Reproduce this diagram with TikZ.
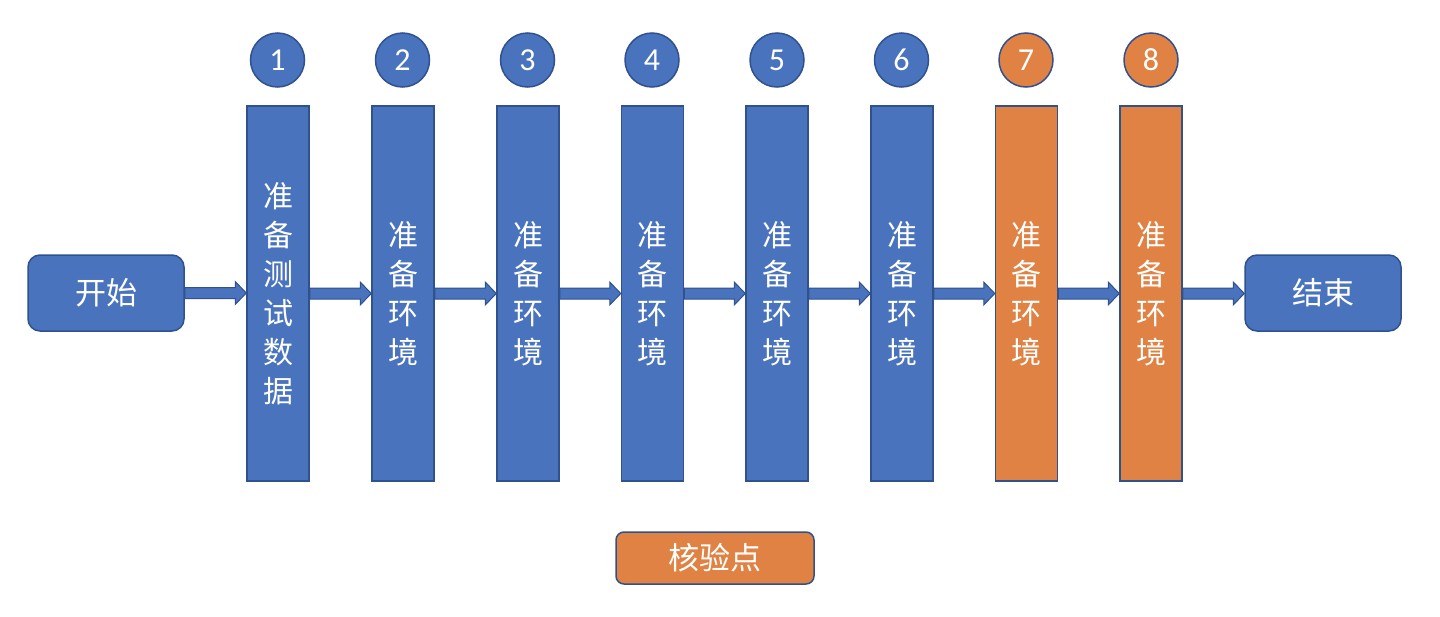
\documentclass[tikz,border=0pt]{standalone}
\usepackage{fontspec}
\newfontfamily\cjk{Noto Sans CJK SC}
\newfontfamily\numfont{Carlito}
\usetikzlibrary{calc}
\definecolor{bfill}{HTML}{4A73BE}
\definecolor{ofill}{HTML}{E08244}
\definecolor{bline}{HTML}{2F528F}
\tikzset{
  colbox/.style={draw=bline,line width=1.5pt,fill=bfill,minimum width=62pt,minimum height=375pt,inner sep=0pt,text=white,align=center,font=\cjk\fontsize{30}{39}\selectfont},
  numcirc/.style={circle,draw=bline,line width=1.5pt,fill=bfill,minimum size=54pt,inner sep=0pt,text=white,font=\numfont\fontsize{32}{32}\selectfont},
  endbox/.style={draw=bline,line width=1.5pt,fill=bfill,rounded corners=12pt,minimum width=156pt,minimum height=76pt,inner sep=0pt,text=white,font=\cjk\fontsize{31}{31}\selectfont},
  orangefill/.style={fill=ofill},
  blockarrow/.style={fill=bfill,draw=bline,line width=1pt}
}
\newcommand{\blockarr}[2]{%
  \path let \p1=(#1.east), \p2=(#2.west) in
    [blockarrow] (\x1,\y1+5.5pt) -- (\x2-11pt,\y1+5.5pt) -- (\x2-11pt,\y1+11.5pt) -- (\x2,\y1) -- (\x2-11pt,\y1-11.5pt) -- (\x2-11pt,\y1-5.5pt) -- (\x1,\y1-5.5pt) -- cycle;}
\begin{document}
\begin{tikzpicture}[x=1pt,y=-1pt]
\useasboundingbox (0,0) rectangle (1440,616);
\node[endbox] (start) at (106,293) {开始};
\node[endbox] (end) at (1323,293) {结束};
\node[colbox] (c1) at (278,293.5) {准\\备\\测\\试\\数\\据};
\node[colbox] (c2) at (403,293.5) {准\\备\\环\\境};
\node[colbox] (c3) at (528,293.5) {准\\备\\环\\境};
\node[colbox] (c4) at (652.5,293.5) {准\\备\\环\\境};
\node[colbox] (c5) at (777,293.5) {准\\备\\环\\境};
\node[colbox] (c6) at (902,293.5) {准\\备\\环\\境};
\node[colbox,orangefill] (c7) at (1026.5,293.5) {准\\备\\环\\境};
\node[colbox,orangefill] (c8) at (1151,293.5) {准\\备\\环\\境};
\node[numcirc] (n1) at (277.5,60) {1};
\node[numcirc] (n2) at (402.5,60) {2};
\node[numcirc] (n3) at (527.5,60) {3};
\node[numcirc] (n4) at (652,60) {4};
\node[numcirc] (n5) at (777,60) {5};
\node[numcirc] (n6) at (901.5,60) {6};
\node[numcirc,orangefill] (n7) at (1026,60) {7};
\node[numcirc,orangefill] (n8) at (1151,60) {8};
\node[endbox,orangefill,minimum width=198pt,minimum height=52pt,rounded corners=8pt] (check) at (715,558) {核验点};
\blockarr{start}{c1}
\blockarr{c1}{c2}
\blockarr{c2}{c3}
\blockarr{c3}{c4}
\blockarr{c4}{c5}
\blockarr{c5}{c6}
\blockarr{c6}{c7}
\blockarr{c7}{c8}
\blockarr{c8}{end}
\end{tikzpicture}
\end{document}
